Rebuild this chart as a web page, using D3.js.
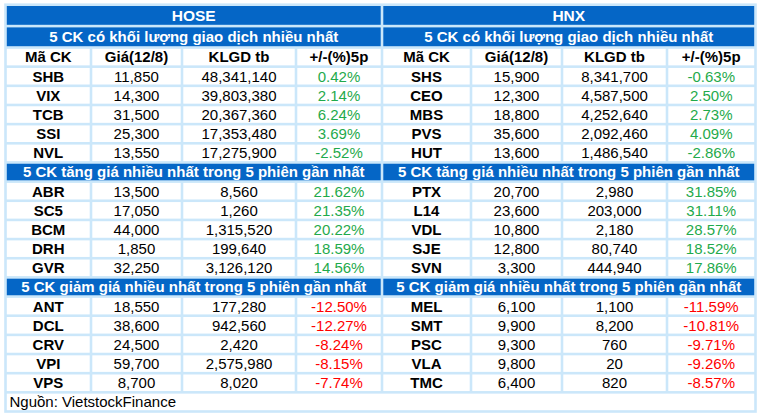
<!DOCTYPE html>
<html>
<head>
<meta charset="utf-8">
<script src="https://cdn.jsdelivr.net/npm/d3@7"></script>
<style>
  body { margin: 0; background: #fff; }
  svg { display: block; font-family: "Liberation Sans", Arial, sans-serif; }
</style>
</head>
<body>
<svg></svg>
<script>
// chart data
var exchanges = ["HOSE", "HNX"];
var columns = ["Mã CK", "Giá(12/8)", "KLGD tb", "+/-(%)5p"];
var sections = [
  "5 CK có khối lượng giao dịch nhiều nhất",
  "5 CK tăng giá nhiều nhất trong 5 phiên gần nhất",
  "5 CK giảm giá nhiều nhất trong 5 phiên gần nhất"
];
var source = "Nguồn: VietstockFinance";

var hoseTickers = [["SHB", "VIX", "TCB", "SSI", "NVL"], ["ABR", "SC5", "BCM", "DRH", "GVR"], ["ANT", "DCL", "CRV", "VPI", "VPS"]];
var hosePrices = [[11850, 14300, 31500, 25300, 13550], [13500, 17050, 44000, 1850, 32250], [18550, 38600, 24500, 59700, 8700]];
var hoseVolumes = [[48341140, 39803380, 20367360, 17353480, 17275900], [8560, 1260, 1315520, 199640, 3126120], [177280, 942560, 2420, 2575980, 8020]];
var hoseChanges = [[0.42, 2.14, 6.24, 3.69, -2.52], [21.62, 21.35, 20.22, 18.59, 14.56], [-12.50, -12.27, -8.24, -8.15, -7.74]];

var hnxTickers = [["SHS", "CEO", "MBS", "PVS", "HUT"], ["PTX", "L14", "VDL", "SJE", "SVN"], ["MEL", "SMT", "PSC", "VLA", "TMC"]];
var hnxPrices = [[15900, 12300, 18800, 35600, 13600], [20700, 23600, 10800, 12800, 3300], [6100, 9900, 9300, 9800, 6400]];
var hnxVolumes = [[8341700, 4587500, 4252640, 2092460, 1486540], [2980, 203000, 2180, 80740, 444940], [1100, 8200, 760, 20, 820]];
var hnxChanges = [[-0.63, 2.50, 2.73, 4.09, -2.86], [31.85, 31.11, 28.57, 18.52, 17.86], [-11.59, -10.81, -9.71, -9.26, -8.57]];

var svgWidth = 760, svgHeight = 417;
var grid = "#cbe7fa", blue = "#0566c6", green = "#1faa4c", red = "#ff0000";
var inset = 1.3;

var svg = d3.select("svg")
  .attr("width", svgWidth)
  .attr("height", svgHeight);

// column edges for each half
var colEdges = [
  [5.5, 91, 182, 296, 382],
  [382, 471, 562, 667, 755.5]
];

// rows: 0 exchange title, 1 section title, 2 column header, then data/section rows, 20 footer
var topY = d3.scaleBand().domain([0, 1]).range([4.7, 47.5]);
var bodyY = d3.scaleBand().domain(d3.range(2, 21)).range([47.5, 411.5]);
function rowTop(r) { return r < 2 ? topY(r) : bodyY(r); }
function rowH(r) { return r < 2 ? topY.bandwidth() : bodyY.bandwidth(); }

// plain hyphen for minus, like the source table
var locale = d3.formatLocale({ decimal: ".", thousands: ",", grouping: [3], currency: ["", ""], minus: "-" });
var fmtInt = locale.format(",");
var fmtPct = function(v) { return locale.format(".2f")(v) + "%"; };

// build a list of cells
var cells = [];
var tables = [
  { tickers: hoseTickers, prices: hosePrices, volumes: hoseVolumes, changes: hoseChanges },
  { tickers: hnxTickers, prices: hnxPrices, volumes: hnxVolumes, changes: hnxChanges }
];

tables.forEach(function(t, ti) {
  var e = colEdges[ti];
  cells.push({ x0: e[0], x1: e[4], row: 0, text: exchanges[ti], fill: blue, color: "#fff", bold: true, size: 15.5 });
  columns.forEach(function(c, ci) {
    cells.push({ x0: e[ci], x1: e[ci + 1], row: 2, text: c, fill: "#fff", color: "#000", bold: true, size: 15 });
  });
  sections.forEach(function(s, si) {
    var sRow = si === 0 ? 1 : 2 + si * 6;
    cells.push({ x0: e[0], x1: e[4], row: sRow, text: s, fill: blue, color: "#fff", bold: true, size: 15 });
    var firstRow = si === 0 ? 3 : sRow + 1;
    t.tickers[si].forEach(function(tk, k) {
      var r = firstRow + k;
      var pctColor = si === 2 ? red : green;
      cells.push({ x0: e[0], x1: e[1], row: r, text: tk, fill: "#fff", color: "#000", bold: true, size: 15 });
      cells.push({ x0: e[1], x1: e[2], row: r, text: fmtInt(t.prices[si][k]), fill: "#fff", color: "#000", bold: false, size: 15 });
      cells.push({ x0: e[2], x1: e[3], row: r, text: fmtInt(t.volumes[si][k]), fill: "#fff", color: "#000", bold: false, size: 15 });
      cells.push({ x0: e[3], x1: e[4], row: r, text: fmtPct(t.changes[si][k]), fill: "#fff", color: pctColor, bold: false, size: 15 });
    });
  });
});
// footer spans both halves
cells.push({ x0: 5.5, x1: 755.5, row: 20, text: source, fill: "#fff", color: "#000", bold: false, size: 15, left: true });

// grid background
svg.append("rect")
  .attr("x", 5.5 - inset)
  .attr("y", 4.7 - inset)
  .attr("width", 755.5 - 5.5 + 2 * inset)
  .attr("height", 411.5 - 4.7 + 2 * inset)
  .attr("fill", grid);

var g = svg.selectAll("g.cell")
  .data(cells)
  .enter().append("g")
  .attr("class", "cell");

g.append("rect")
  .attr("x", function(d) { return d.x0 + inset; })
  .attr("y", function(d) { return rowTop(d.row) + inset; })
  .attr("width", function(d) { return d.x1 - d.x0 - 2 * inset; })
  .attr("height", function(d) { return rowH(d.row) - 2 * inset; })
  .attr("fill", function(d) { return d.fill; });

g.append("text")
  .attr("x", function(d) { return d.left ? d.x0 + 4 : (d.x0 + d.x1) / 2; })
  .attr("y", function(d) { return rowTop(d.row) + rowH(d.row) / 2; })
  .attr("dy", "0.36em")
  .attr("text-anchor", function(d) { return d.left ? "start" : "middle"; })
  .attr("font-size", function(d) { return d.size; })
  .attr("font-weight", function(d) { return d.bold ? "bold" : "normal"; })
  .attr("fill", function(d) { return d.color; })
  .text(function(d) { return d.text; });
</script>
</body>
</html>
